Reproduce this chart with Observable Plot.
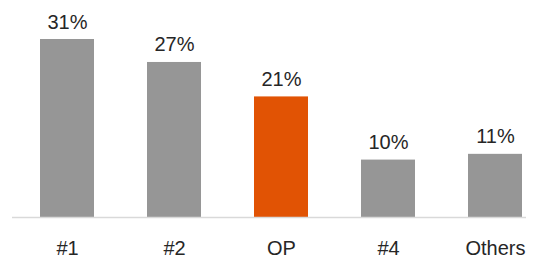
<!DOCTYPE html>
<html>
<head>
<meta charset="utf-8">
<script src="https://cdn.jsdelivr.net/npm/d3@7"></script>
<script src="https://cdn.jsdelivr.net/npm/@observablehq/plot@0.6"></script>
<style>
  html, body { margin: 0; padding: 0; background: #fff; }
  #chart svg { display: block; }
</style>
</head>
<body>
<div id="chart"></div>
<script>
const categories = ["#1", "#2", "OP", "#4", "Others"];
const shares = [31, 27, 21, 10, 11];
const highlight = "OP";

const data = categories.map((c, i) => ({ category: c, share: shares[i] }));

const chart = Plot.plot({
  width: 535,
  height: 260,
  marginTop: 39,
  marginBottom: 43,
  marginLeft: 12,
  marginRight: 9,
  style: { fontFamily: "'Liberation Sans', Arial, sans-serif", background: "#fff" },
  x: { domain: categories, range: [12, 549.5], paddingInner: 0.5, paddingOuter: 0.25, label: null },
  y: { domain: [0, 31], axis: null },
  marks: [
    Plot.barY(data, {
      x: "category",
      y: "share",
      fill: d => d.category === highlight ? "#E15304" : "#969696"
    }),
    Plot.ruleY([0], { stroke: "#d9d9d9", strokeWidth: 1.5 }),
    Plot.text(data, {
      x: "category",
      y: "share",
      text: d => d.share + "%",
      lineAnchor: "bottom",
      dy: -11,
      fontSize: 20,
      fill: "#262626"
    }),
    Plot.axisX({
      tickSize: 0,
      tickPadding: 23,
      fontSize: 20,
      fill: "#262626",
      label: null
    })
  ]
});
document.getElementById("chart").append(chart);
</script>
</body>
</html>
